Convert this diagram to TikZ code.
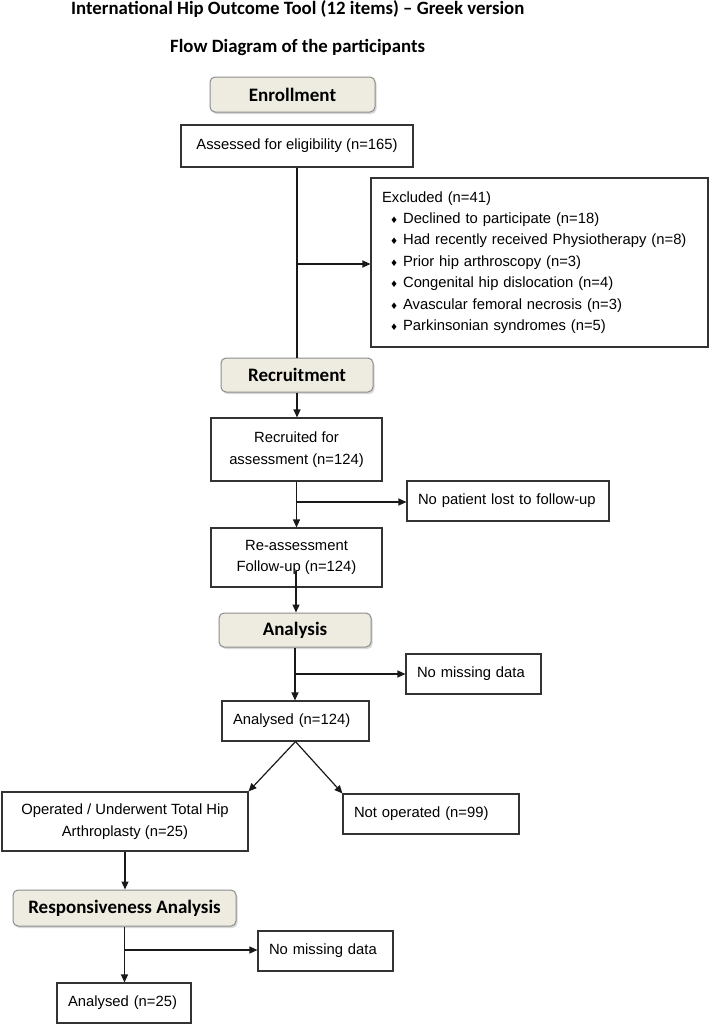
\documentclass[tikz,border=0pt]{standalone}
\usepackage{fontspec}
\setmainfont{Liberation Sans}
\newfontfamily\headfont{Carlito}
\newfontfamily\symfont{DejaVu Sans}
\usetikzlibrary{arrows.meta,shadows}
\definecolor{headfill}{HTML}{EEECE1}
\newcommand{\dbul}{\hspace*{8pt}{\symfont\fontsize{9}{9}\selectfont ♦}\hspace{5pt}}
\begin{document}
\begin{tikzpicture}[x=1pt,y=-1pt,
 box/.style={draw=black!80,line width=1.1pt,fill=white,inner sep=0pt,font=\fontsize{14.8}{21.4}\selectfont,align=center},
 lbox/.style={box,align=left,inner xsep=11pt},
 head/.style={draw=black!45,line width=1pt,fill=headfill,rounded corners=5pt,inner sep=0pt,
   font=\headfont\bfseries\fontsize{19}{22}\selectfont,
   drop shadow={shadow xshift=1.5pt,shadow yshift=-2pt,fill=black!30}},
 ttl/.style={anchor=west,inner sep=0pt,font=\headfont\bfseries\fontsize{18.8}{22}\selectfont},
 conn/.style={line width=1.2pt,draw=black!90},
 arr/.style={conn,-{Triangle[length=8pt,width=7pt]}}]
\useasboundingbox (0,0) rectangle (709,1025);
\fill[white] (0,0) rectangle (709,1025);

\node[ttl] (t1) at (71,9) {International Hip Outcome Tool (12 items) – Greek version};
\node[ttl] (t2) at (170,47) {Flow Diagram of the participants};

\node[head,minimum width=165pt,minimum height=35pt] (enroll) at (292.5,94.5) {Enrollment};
\node[box,minimum width=232pt,minimum height=42pt] (assess) at (297,146) {Assessed for eligibility (n=165)};
\node[lbox,text width=315pt,minimum width=337pt,minimum height=169pt] (excl) at (539.5,262.5)
 {Excluded (n=41)\\
  \dbul Declined to participate (n=18)\\
  \dbul Had recently received Physiotherapy (n=8)\\
  \dbul Prior hip arthroscopy (n=3)\\
  \dbul Congenital hip dislocation (n=4)\\
  \dbul Avascular femoral necrosis (n=3)\\
  \dbul Parkinsonian syndromes (n=5)};

\node[head,minimum width=152pt,minimum height=34pt] (recruit) at (297,375) {Recruitment};
\node[box,minimum width=171pt,minimum height=63pt] (recruited) at (296.5,449.5) {Recruited for\\assessment (n=124)};
\node[lbox,text width=180pt,minimum width=202pt,minimum height=40pt] (nolost) at (508,501) {No patient lost to follow-up};
\node[box,minimum width=171pt,minimum height=59pt] (reassess) at (296.5,557.5) {Re-assessment\\Follow-up (n=124)};

\node[head,minimum width=152pt,minimum height=34pt] (analysis) at (295,630) {Analysis};
\node[lbox,text width=113pt,minimum width=135pt,minimum height=40pt] (nomiss1) at (473.5,674) {No missing data};
\node[lbox,text width=125pt,minimum width=147pt,minimum height=40pt] (an1) at (295.5,721) {Analysed (n=124)};

\node[box,minimum width=246pt,minimum height=59pt] (oper) at (125,821.5) {Operated / Underwent Total Hip\\Arthroplasty (n=25)};
\node[lbox,text width=154pt,minimum width=176pt,minimum height=40pt] (notop) at (431,814) {Not operated (n=99)};

\node[head,minimum width=223pt,minimum height=36pt] (resp) at (124.5,908) {Responsiveness Analysis};
\node[lbox,text width=113pt,minimum width=135pt,minimum height=40pt] (nomiss2) at (325.5,951) {No missing data};
\node[lbox,text width=112pt,minimum width=134pt,minimum height=40pt] (an2) at (124,1003) {Analysed (n=25)};

% connectors
\draw[conn] (assess.south) -- (assess.south |- recruit.north);
\coordinate (b1) at (297,264);
\draw[arr] (b1) -- (excl.west |- b1);

\draw[arr] (recruit.south) -- (recruit.south |- recruited.north);
\draw[arr] (recruited.south) -- (recruited.south |- reassess.north);
\coordinate (b2) at (296.5,502);
\draw[arr] (b2) -- (nolost.west |- b2);

\coordinate (c3) at (296,571);
\draw[arr] (c3) -- (c3 |- analysis.north);

\draw[arr] (analysis.south) -- (analysis.south |- an1.north);
\coordinate (b3) at (295,674);
\draw[arr] (b3) -- (nomiss1.west |- b3);

\draw[arr] (an1.south) -- (oper.north east);
\draw[arr] (an1.south) -- (notop.north west);

\draw[arr] (oper.south) -- (oper.south |- resp.north);
\draw[arr] (resp.south) -- (resp.south |- an2.north);
\coordinate (b4) at (125,950);
\draw[arr] (b4) -- (nomiss2.west |- b4);
\end{tikzpicture}
\end{document}
